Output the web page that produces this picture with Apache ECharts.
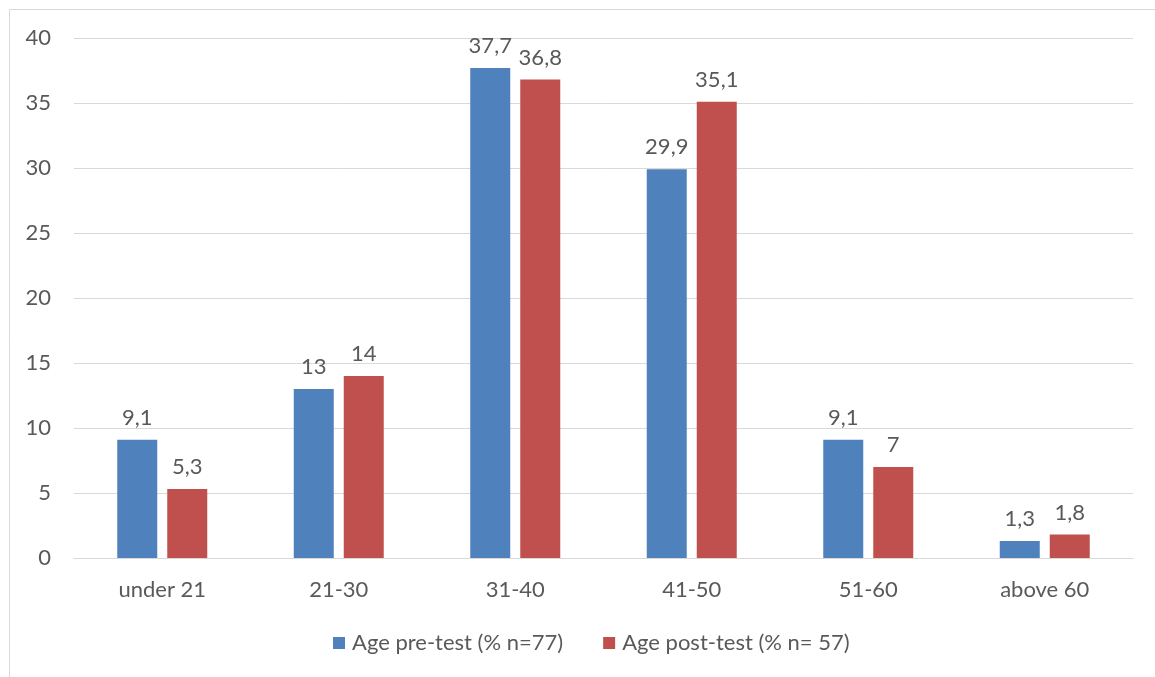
<!DOCTYPE html>
<html>
<head>
<meta charset="utf-8">
<style>
  html, body { margin: 0; padding: 0; background: #fff; }
  #chart { width: 1155px; height: 677px; }
</style>
<script src="https://cdn.jsdelivr.net/npm/echarts@6/dist/echarts.min.js"></script>
</head>
<body>
<div id="chart"></div>
<script>
const categories = ['under 21', '21-30', '31-40', '41-50', '51-60', 'above 60'];
const preTest = [9.1, 13, 37.7, 29.9, 9.1, 1.3];
const postTest = [5.3, 14, 36.8, 35.1, 7, 1.8];
const seriesNames = ['Age pre-test (% n=77)', 'Age post-test (% n= 57)'];

const FONT = 'Lato, "Open Sans", sans-serif';
const TEXT = '#595959';
const SIZE = 22;

// Decimal comma, as in the source locale
const fmt = p => String(p.value).replace('.', ',');

const chart = echarts.init(document.getElementById('chart'), null, { renderer: 'canvas' });
chart.setOption({
  animation: false,
  backgroundColor: '#ffffff',
  graphic: [{
    type: 'rect',
    shape: { x: 9.5, y: 9.5, width: 1200, height: 700 },
    style: { fill: 'none', stroke: '#d9d9d9', lineWidth: 1 },
    silent: true
  }],
  grid: { left: 74, right: 22, top: 38, bottom: 119, containLabel: false },
  legend: {
    bottom: 18,
    left: 328,
    itemWidth: 12,
    itemHeight: 12,
    itemGap: 40,
    icon: 'rect',
    textStyle: { color: TEXT, fontSize: SIZE, fontFamily: FONT, padding: [0, 0, 0, 2] },
    data: seriesNames
  },
  xAxis: {
    type: 'category',
    data: categories,
    axisLine: { lineStyle: { color: '#d9d9d9', width: 1 } },
    axisTick: { show: false },
    axisLabel: { color: TEXT, fontSize: SIZE, fontFamily: FONT, margin: 21 }
  },
  yAxis: {
    type: 'value',
    min: 0,
    max: 40,
    interval: 5,
    axisLine: { show: false },
    axisTick: { show: false },
    splitLine: { lineStyle: { color: '#d9d9d9', width: 1 } },
    axisLabel: { color: TEXT, fontSize: SIZE, fontFamily: FONT, margin: 23 }
  },
  series: [
    {
      name: seriesNames[0],
      type: 'bar',
      data: preTest,
      barWidth: 40,
      barGap: '25%',
      itemStyle: { color: '#4f81bd' },
      label: { show: true, position: 'top', distance: 11, color: TEXT, fontSize: SIZE, fontFamily: FONT, formatter: fmt }
    },
    {
      name: seriesNames[1],
      type: 'bar',
      data: postTest,
      barWidth: 40,
      itemStyle: { color: '#c0504d' },
      label: { show: true, position: 'top', distance: 11, color: TEXT, fontSize: SIZE, fontFamily: FONT, formatter: fmt }
    }
  ]
});
</script>
</body>
</html>
